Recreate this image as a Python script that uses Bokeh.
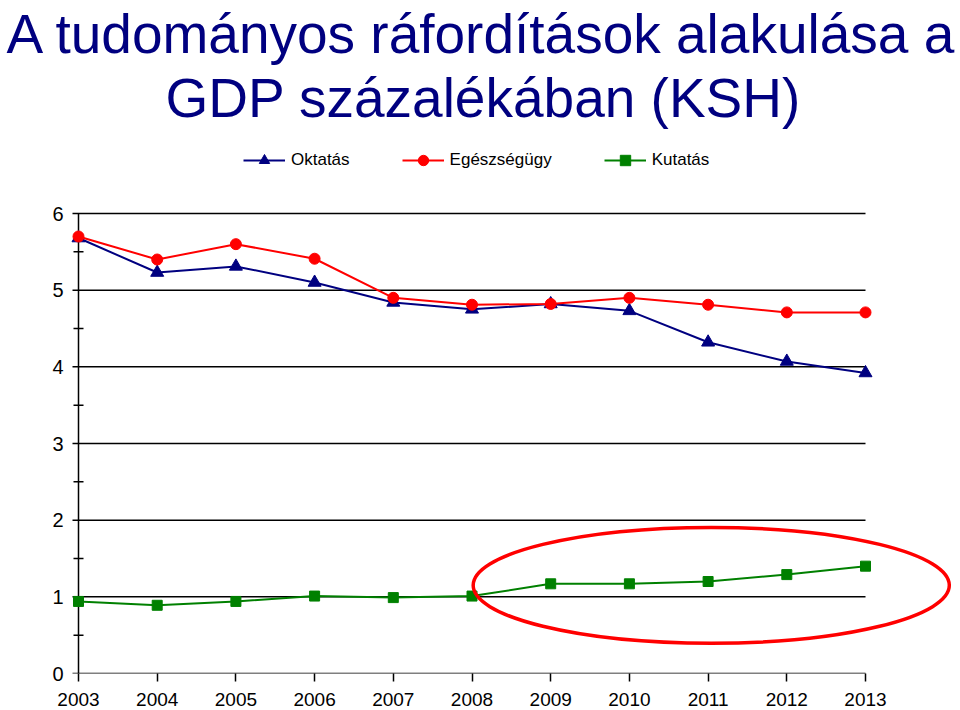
from bokeh.plotting import figure
from bokeh.models import Range1d, FixedTicker, Legend, LegendItem, Title
from bokeh.embed import file_html
from bokeh.resources import INLINE

# ---------------- data ----------------
title_lines = ["A tudományos ráfordítások alakulása a", "GDP százalékában (KSH)"]
years = [2003, 2004, 2005, 2006, 2007, 2008, 2009, 2010, 2011, 2012, 2013]
oktatas = [5.68, 5.23, 5.31, 5.10, 4.84, 4.75, 4.82, 4.73, 4.32, 4.07, 3.92]
egeszsegugy = [5.70, 5.40, 5.60, 5.41, 4.90, 4.81, 4.82, 4.90, 4.81, 4.71, 4.71]
kutatas = [0.94, 0.89, 0.94, 1.01, 0.99, 1.01, 1.17, 1.17, 1.20, 1.29, 1.40]
series_names = ["Oktatás", "Egészségügy", "Kutatás"]
y_ticks = [0, 1, 2, 3, 4, 5, 6]
y_minor = [0.5, 1.5, 2.5, 3.5, 4.5, 5.5]

# highlight ellipse (data units)
hl_x, hl_y, hl_w, hl_h = 2011.04, 1.15, 6.05, 1.51

# ---------------- layout ----------------
FONT = "Liberation Sans"
FIG_W, FIG_H = 960, 710
BORDER_L, BORDER_B, BORDER_T = 66, 37, 128
FRAME_W = FIG_W - BORDER_L
FRAME_H = FIG_H - BORDER_B - BORDER_T
PPY = 78.7            # px per year
PPU = 460 / 6         # px per y unit
X0 = years[0] - 12 / PPY
X1 = X0 + FRAME_W / PPY
Y1 = FRAME_H / PPU

p = figure(width=FIG_W, height=FIG_H, output_backend="svg", toolbar_location=None,
           x_range=Range1d(X0, X1), y_range=Range1d(0, Y1),
           min_border_left=BORDER_L, min_border_right=0, min_border_top=BORDER_T,
           min_border_bottom=BORDER_B)
p.outline_line_color = None
p.xgrid.visible = False
p.ygrid.visible = False
p.background_fill_color = "white"
p.border_fill_color = "white"

# title: two lines, nearest the frame first
for line, off in [(title_lines[1], 99), (title_lines[0], -60)]:
    p.add_layout(Title(text=line, align="left", offset=off, standoff=0,
                       text_font=FONT, text_font_size="55px",
                       text_font_style="normal", text_color="#000080"), "above")

# y axis: labels only
ya = p.yaxis[0]
ya.ticker = FixedTicker(ticks=y_ticks, minor_ticks=[])
ya.axis_line_color = None
ya.major_tick_line_color = None
ya.minor_tick_line_color = None
ya.major_tick_out = 0
ya.major_tick_in = 0
ya.major_label_standoff = 3
ya.major_label_text_font = FONT
ya.major_label_text_font_size = "20px"
ya.major_label_text_color = "black"

# x axis
xa = p.xaxis[0]
xa.ticker = FixedTicker(ticks=years, minor_ticks=[])
xa.axis_line_color = None
xa.major_tick_line_color = "black"
xa.major_tick_line_width = 1.5
xa.major_tick_in = 0
xa.major_tick_out = 8
xa.minor_tick_line_color = None
xa.major_label_standoff = 11
xa.major_label_text_font = FONT
xa.major_label_text_font_size = "19px"
xa.major_label_text_color = "black"

# gridlines, axis line, minor ticks
gx0 = years[0] - 6 / PPY
p.segment(x0=[gx0] * len(y_ticks), y0=y_ticks, x1=[years[-1]] * len(y_ticks), y1=y_ticks,
          line_color="black", line_width=1.5)
p.segment(x0=[years[0]], y0=[y_ticks[0]], x1=[years[0]], y1=[y_ticks[-1]],
          line_color="black", line_width=1.5)
p.segment(x0=[years[0] - 5 / PPY] * len(y_minor), y0=y_minor,
          x1=[years[0] + 5 / PPY] * len(y_minor), y1=y_minor,
          line_color="black", line_width=1.5)

# series
BLUE, RED, GREEN = "#000080", "#FF0000", "#008000"
l1 = p.line(years, oktatas, line_color=BLUE, line_width=2)
m1 = p.scatter(years, oktatas, marker="triangle", size=13, fill_color=BLUE, line_color=BLUE)
l2 = p.line(years, egeszsegugy, line_color=RED, line_width=2)
m2 = p.scatter(years, egeszsegugy, marker="circle", size=11, fill_color=RED, line_color=RED)
l3 = p.line(years, kutatas, line_color=GREEN, line_width=2)
m3 = p.scatter(years, kutatas, marker="square", size=10, fill_color=GREEN, line_color=GREEN)

# highlight ellipse
p.ellipse(x=[hl_x], y=[hl_y], width=[hl_w], height=[hl_h], fill_color=None,
          line_color=RED, line_width=3.5)

legend = Legend(items=[LegendItem(label=series_names[0], renderers=[l1, m1]),
                       LegendItem(label=series_names[1], renderers=[l2, m2]),
                       LegendItem(label=series_names[2], renderers=[l3, m3])],
                orientation="horizontal", location=(177, 500), padding=0, margin=0,
                spacing=52, glyph_width=42, glyph_height=26, label_standoff=6,
                label_text_font=FONT, label_text_font_size="17px",
                label_text_color="black", border_line_color=None,
                background_fill_alpha=0)
p.add_layout(legend)

open("out.html", "w").write(file_html(p, INLINE))
